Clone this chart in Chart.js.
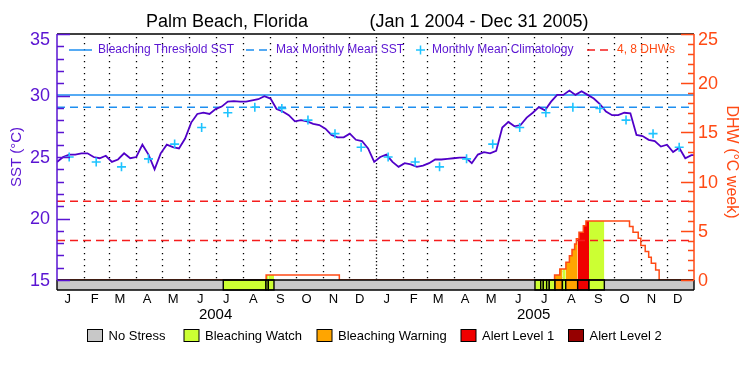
<!DOCTYPE html>
<html>
<head>
<meta charset="utf-8">
<script src="https://cdn.jsdelivr.net/npm/chart.js@4.4.1/dist/chart.umd.min.js"></script>
<style>
  html, body { margin: 0; padding: 0; background: #fff; }
  canvas { display: block; }
</style>
</head>
<body>
<canvas id="c" width="750" height="375"></canvas>
<script>
// all x values are days counted from Jan 1 2004
// weekly SST (deg C)
const sstWeekly = [
  24.6, 25.0, 25.2, 25.2, 25.3, 25.3, 25.0, 24.9, 25.1, 24.6,
  24.8, 25.3, 24.9, 25.0, 26.0, 25.2, 24.0, 25.3, 26.0, 25.8,
  25.7, 26.5, 27.8, 28.5, 28.6, 28.5, 28.9, 29.1, 29.5, 29.55,
  29.5, 29.5, 29.6, 29.7, 29.95, 29.75, 28.9, 28.7, 28.4, 27.9,
  28.0, 27.9, 27.7, 27.6, 27.3, 26.8, 26.6, 26.6, 26.9, 26.4,
  26.3, 25.7, 24.6, 25.0, 25.2, 24.6, 24.2, 24.5, 24.4, 24.2,
  24.3, 24.5, 24.8, 24.8, 24.85, 24.9, 24.95, 24.95, 24.5, 25.2,
  25.4, 25.3, 25.5, 27.4, 27.85, 27.5, 27.6, 28.2, 28.6, 29.05,
  28.8, 29.5, 30.05, 30.05, 30.4, 30.05, 30.35, 30.05, 29.75, 29.3,
  28.7, 28.4, 28.4, 28.6, 28.55, 26.8, 26.7, 26.4, 26.3, 25.85,
  26.0, 25.4, 25.75, 24.9, 25.15,
]
const dhwDays   = [0, 240, 324, 571, 577, 584, 588, 591, 594, 596, 599, 604, 607, 657, 661, 667, 670, 675, 679, 682, 687, 691, 731]
const dhwValues = [0, 0.5, 0,   0.5, 1.12, 1.8, 2.45, 3.1, 3.65, 4.2, 4.85, 5.5, 6.0, 5.44, 4.86, 4.25, 3.5, 2.89, 2.31, 1.7, 1.02, 0, 0]
const climatology = [25.0, 24.6, 24.2, 24.85, 26.05, 27.4, 28.6, 29.05, 28.95, 28.0, 26.9, 25.8]
const bleachingThreshold = 30.05
const maxMonthlyMean = 29.05
const dhwLevels = [4, 8]

const stressStart = [190.8, 239.8, 242.5, 548.5, 555.1, 558.1, 561.9, 564.9, 571.5, 580.0, 583.8, 597.5, 610.5]
const stressEnd   = [239.8, 242.5, 249.0, 555.1, 558.1, 561.9, 564.9, 571.5, 580.0, 583.8, 597.5, 610.5, 628.1]
const stressLevel = [1, 1, 1, 1, 1, 1, 1, 1, 2, 1, 2, 3, 1]
const stressNames  = ['No Stress', 'Bleaching Watch', 'Bleaching Warning', 'Alert Level 1', 'Alert Level 2']
const stressColors = ['#c8c8c8', '#ccff33', '#ffa500', '#f00000', '#960000']

const monthLetters = ['J', 'F', 'M', 'A', 'M', 'J', 'J', 'A', 'S', 'O', 'N', 'D']
const years = ['2004', '2005']
const sstTicks = [15, 20, 25, 30, 35]
const dhwTicks = [0, 5, 10, 15, 20, 25]

const PURPLE = '#5a14d2'
const ORANGE = '#ff4a14'
const BLUE = '#1e8ff0'
const CYAN = '#1ec3ff'
const FONT = '"Liberation Sans", Arial, sans-serif'

const day0 = Date.UTC(2004, 0, 1)
const dayOf = (y, m, d) => (Date.UTC(y, m, d) - day0) / 864e5
const monthStarts = []
years.forEach(y => { for (let m = 0; m < 12; m++) monthStarts.push(dayOf(+y, m, 1)) })
const lastDay = dayOf(2006, 0, 1)

const sstPoints = sstWeekly.map((v, i) => ({ x: i * 7, y: v }))
sstPoints.push({ x: lastDay, y: sstWeekly[sstWeekly.length - 1] })
const climPoints = []
monthStarts.forEach((d, i) => climPoints.push({ x: d + 14, y: climatology[i % 12] }))
const dhwPoints = dhwDays.map((d, i) => ({ x: d, y: dhwValues[i] }))

function dhwAt (d) {
  let v = 0
  dhwDays.forEach((dd, i) => { if (dd <= d) v = dhwValues[i] })
  return v
}

// area under the DHW curve, coloured by stress level
const fillSets = stressLevel.map((lvl, k) => {
  const a = stressStart[k], b = stressEnd[k]
  const pts = [{ x: a, y: dhwAt(a) }]
  dhwDays.forEach((d, i) => { if (d > a && d < b) pts.push({ x: d, y: dhwValues[i] }) })
  pts.push({ x: b, y: dhwAt(b - 0.01) })
  return {
    type: 'line', data: pts, yAxisID: 'y2', stepped: true,
    borderWidth: 0, borderColor: 'transparent', pointRadius: 0,
    fill: { value: 0 }, backgroundColor: stressColors[lvl], order: 10,
  }
})

const flat = v => [{ x: 0, y: v }, { x: lastDay, y: v }]

const decor = {
  id: 'decor',
  beforeDatasetsDraw (chart) {
    const { ctx, chartArea: a, scales: { x, y } } = chart
    const bot = y.getPixelForValue(15)
    ctx.save()
    ctx.strokeStyle = '#000'
    ctx.lineWidth = 1.3
    monthStarts.forEach(d => {
      if (d <= 0) return
      const px = Math.round(x.getPixelForValue(d)) + 0.5
      ctx.setLineDash(d === 366 ? [1.3, 2.2] : [1.3, 4.7])
      ctx.beginPath()
      ctx.moveTo(px, a.top + 3)
      ctx.lineTo(px, bot)
      ctx.stroke()
    })
    ctx.restore()
  },
  afterDatasetsDraw (chart) {
    const { ctx, chartArea: a, scales: { x, y, y2 } } = chart
    const barTop = Math.round(y.getPixelForValue(15))
    const barBot = Math.round(a.bottom)
    ctx.save()
    // stress bar
    ctx.fillStyle = stressColors[0]
    ctx.fillRect(a.left, barTop, a.right - a.left, barBot - barTop)
    ctx.strokeStyle = '#000'
    ctx.lineWidth = 1.4
    stressLevel.forEach((lvl, k) => {
      const x0 = x.getPixelForValue(stressStart[k])
      const x1 = x.getPixelForValue(stressEnd[k])
      ctx.fillStyle = stressColors[lvl]
      ctx.fillRect(x0, barTop, x1 - x0, barBot - barTop)
      ctx.strokeRect(x0, barTop, x1 - x0, barBot - barTop)
    })
    ctx.beginPath()
    ctx.moveTo(a.left, barTop); ctx.lineTo(a.right, barTop)
    ctx.moveTo(a.left, barBot); ctx.lineTo(a.right, barBot)
    ctx.moveTo(a.left, a.top); ctx.lineTo(a.right, a.top)
    ctx.moveTo(a.left, barTop); ctx.lineTo(a.left, barBot)
    ctx.moveTo(a.right, barTop); ctx.lineTo(a.right, barBot)
    ctx.stroke()
    // left axis with inward ticks
    ctx.strokeStyle = PURPLE
    ctx.lineWidth = 1.5
    ctx.beginPath()
    ctx.moveTo(a.left, a.top); ctx.lineTo(a.left, barTop)
    for (let v = 15; v <= 35; v++) {
      const py = Math.round(y.getPixelForValue(v)) + 0.5
      ctx.moveTo(a.left, py); ctx.lineTo(a.left + (v % 5 ? 7 : 13), py)
    }
    ctx.stroke()
    // right axis
    ctx.strokeStyle = ORANGE
    ctx.beginPath()
    ctx.moveTo(a.right, a.top); ctx.lineTo(a.right, barTop)
    for (let v = 0; v <= 25; v++) {
      const py = Math.round(y2.getPixelForValue(v)) + 0.5
      ctx.moveTo(a.right, py); ctx.lineTo(a.right - (v % 5 ? 6 : 13), py)
    }
    ctx.stroke()
    ctx.restore()
  },
  afterDraw (chart) {
    const { ctx, scales: { x, y, y2 } } = chart
    ctx.save()
    ctx.textBaseline = 'middle'
    // title
    ctx.fillStyle = '#000'
    ctx.font = '18px ' + FONT
    ctx.textAlign = 'center'
    ctx.fillText('Palm Beach, Florida', 227, 22)
    ctx.fillText('(Jan 1 2004 - Dec 31 2005)', 479, 22)

    // top legend
    const ly = 50
    ctx.font = '12px ' + FONT
    ctx.textAlign = 'left'
    ctx.lineWidth = 1.5
    ctx.strokeStyle = BLUE
    ctx.beginPath(); ctx.moveTo(69, ly); ctx.lineTo(92, ly); ctx.stroke()
    ctx.setLineDash([8, 5])
    ctx.beginPath(); ctx.moveTo(246, ly); ctx.lineTo(271, ly); ctx.stroke()
    ctx.strokeStyle = '#f51d1d'
    ctx.beginPath(); ctx.moveTo(587, ly); ctx.lineTo(612, ly); ctx.stroke()
    ctx.setLineDash([])
    ctx.strokeStyle = CYAN
    ctx.beginPath(); ctx.moveTo(416, ly); ctx.lineTo(425, ly); ctx.moveTo(420.5, ly - 4.5); ctx.lineTo(420.5, ly + 4.5); ctx.stroke()
    ctx.fillStyle = PURPLE
    ctx.fillText('Bleaching Threshold SST', 98, ly)
    ctx.fillText('Max Monthly Mean SST', 276, ly)
    ctx.fillText('Monthly Mean Climatology', 432, ly)
    ctx.fillStyle = ORANGE
    ctx.fillText('4, 8 DHWs', 617, ly)

    // axis labels (the top one sits a little below its tick)
    ctx.font = '18px ' + FONT
    ctx.fillStyle = PURPLE
    ctx.textAlign = 'right'
    sstTicks.forEach(v => ctx.fillText(String(v), 50, y.getPixelForValue(v) + (v === 35 ? 6 : 1)))
    ctx.fillStyle = ORANGE
    ctx.textAlign = 'left'
    dhwTicks.forEach(v => ctx.fillText(String(v), 698, y2.getPixelForValue(v) + (v === 25 ? 6 : 1)))

    // axis titles
    ctx.textAlign = 'center'
    ctx.fillStyle = PURPLE
    ctx.font = '15px ' + FONT
    ctx.save(); ctx.translate(17, 157); ctx.rotate(-Math.PI / 2); ctx.fillText('SST (°C)', 0, 0); ctx.restore()
    ctx.fillStyle = ORANGE
    ctx.font = '16px ' + FONT
    ctx.save(); ctx.translate(731, 162); ctx.rotate(Math.PI / 2); ctx.fillText('DHW (°C week)', 0, 0); ctx.restore()

    // months and years
    ctx.fillStyle = '#000'
    ctx.font = '13px ' + FONT
    monthStarts.forEach((d, i) => ctx.fillText(monthLetters[i % 12], x.getPixelForValue(d + 14) - 1.5, 299))
    ctx.font = '15px ' + FONT
    years.forEach(yr => ctx.fillText(yr, x.getPixelForValue(dayOf(+yr, 6, 1)), 315))

    // stress legend
    const boxX = [87.5, 184, 317, 461, 568.5]
    ctx.font = '13px ' + FONT
    ctx.textAlign = 'left'
    ctx.lineWidth = 1
    ctx.strokeStyle = '#000'
    stressNames.forEach((name, i) => {
      ctx.fillStyle = stressColors[i]
      ctx.fillRect(boxX[i], 329.5, 15, 12)
      ctx.strokeRect(boxX[i], 329.5, 15, 12)
      ctx.fillStyle = '#000'
      ctx.fillText(name, boxX[i] + 21, 336)
    })
    ctx.restore()
  },
}

new Chart(document.getElementById('c'), {
  type: 'line',
  data: {
    datasets: [
      ...fillSets,
      { data: dhwPoints, yAxisID: 'y2', stepped: true, borderColor: ORANGE, borderWidth: 1.5, pointRadius: 0, order: 5 },
      { data: flat(dhwLevels[0]), yAxisID: 'y2', borderColor: '#f51d1d', borderWidth: 1.5, borderDash: [8, 5], pointRadius: 0, order: 4 },
      { data: flat(dhwLevels[1]), yAxisID: 'y2', borderColor: '#f51d1d', borderWidth: 1.5, borderDash: [8, 5], pointRadius: 0, order: 4 },
      { data: flat(maxMonthlyMean), yAxisID: 'y', borderColor: BLUE, borderWidth: 1.5, borderDash: [8, 5], pointRadius: 0, order: 3 },
      { data: flat(bleachingThreshold), yAxisID: 'y', borderColor: BLUE, borderWidth: 1.5, pointRadius: 0, order: 3 },
      { data: sstPoints, yAxisID: 'y', borderColor: '#5000c8', borderWidth: 1.8, pointRadius: 0, tension: 0, order: 1 },
      { data: climPoints, yAxisID: 'y', showLine: false, pointStyle: 'cross', pointRadius: 4.5, borderColor: CYAN, borderWidth: 1.6, order: 0 },
    ],
  },
  options: {
    responsive: false,
    animation: false,
    devicePixelRatio: 1,
    layout: { padding: { left: 57, right: 56, top: 34, bottom: 85 } },
    plugins: { legend: { display: false }, tooltip: { enabled: false } },
    scales: {
      x: { type: 'linear', min: 0, max: lastDay, display: false },
      y: { min: 14.19, max: 35, display: false },
      y2: { min: -1.02, max: 25, display: false, position: 'right' },
    },
  },
  plugins: [decor],
})
</script>
</body>
</html>
